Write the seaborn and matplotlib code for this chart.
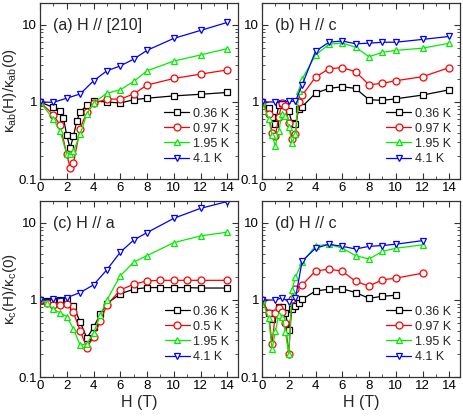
import matplotlib
matplotlib.use("Agg")
import matplotlib.pyplot as plt
import matplotlib.ticker as mticker
import seaborn as sns
import pandas as pd
import numpy as np

# ---------------- data ----------------
# (a) H // [210]
a_H_036 = [0, 1, 1.5, 1.75, 2, 2.25, 2.5, 2.75, 3, 3.5, 4, 5, 6, 7, 8, 10, 12, 14]
a_k_036 = [1.0, 0.85, 0.76, 0.62, 0.37, 0.25, 0.36, 0.57, 0.74, 0.91, 1.03, 1.0, 0.97, 1.07, 1.12, 1.2, 1.26, 1.33]
a_H_097 = [0, 1, 1.5, 2, 2.25, 2.5, 3, 3.5, 4, 5, 6, 7, 8, 10, 12, 14]
a_k_097 = [1.0, 0.68, 0.5, 0.21, 0.14, 0.16, 0.45, 0.74, 0.96, 1.09, 1.09, 1.27, 1.66, 2.02, 2.3, 2.61]
a_H_195 = [0, 1, 1.5, 2, 2.25, 2.5, 3, 3.5, 4, 5, 6, 7, 8, 10, 12, 14]
a_k_195 = [1.0, 0.6, 0.42, 0.21, 0.21, 0.23, 0.38, 0.7, 0.97, 1.3, 1.44, 1.85, 2.54, 3.4, 4.08, 4.93]
a_H_41 = [0, 1, 2, 3, 4, 5, 6, 7, 8, 10, 12, 14]
a_k_41 = [1.0, 0.99, 1.12, 1.27, 1.88, 2.54, 2.94, 3.6, 4.69, 6.7, 8.5, 10.8]

# (b) H // c  (kappa_ab)
b_H_036 = [0, 0.5, 0.75, 1, 1.25, 1.5, 1.75, 2, 2.25, 2.5, 2.75, 3, 4, 5, 6, 7, 8, 9, 10, 12, 14]
b_k_036 = [1.0, 0.83, 0.63, 0.52, 0.92, 0.96, 0.95, 0.76, 0.53, 0.52, 0.81, 0.87, 1.3, 1.5, 1.58, 1.5, 1.07, 1.05, 1.1, 1.23, 1.44]
b_H_097 = [0, 0.5, 0.75, 1, 1.25, 1.5, 1.75, 2, 2.25, 2.5, 2.75, 3, 4, 5, 6, 7, 8, 9, 10, 12, 14]
b_k_097 = [1.0, 0.7, 0.4, 0.36, 0.63, 0.98, 0.88, 0.54, 0.33, 0.38, 1.0, 1.22, 2.1, 2.7, 2.8, 2.47, 1.67, 1.75, 1.89, 2.13, 2.8]
b_H_195 = [0, 0.5, 0.75, 1, 1.25, 1.5, 1.75, 2, 2.25, 2.5, 2.75, 3, 4, 5, 6, 7, 8, 9, 10, 12, 14]
b_k_195 = [1.0, 0.61, 0.37, 0.27, 0.42, 0.7, 0.65, 0.48, 0.29, 0.38, 1.4, 1.99, 4.07, 5.6, 5.85, 5.14, 3.87, 4.42, 4.68, 5.0, 5.8]
b_H_41 = [0, 1, 2, 2.5, 3, 4, 5, 6, 7, 8, 9, 10, 12, 14]
b_k_41 = [1.0, 1.0, 1.02, 1.02, 1.67, 4.55, 5.97, 6.2, 5.7, 5.8, 5.97, 5.97, 6.5, 7.1]

# (c) H // a  (kappa_c)
c_H_036 = [0, 0.5, 1, 1.5, 2, 2.5, 3, 3.5, 4, 4.5, 5, 6, 7, 8, 9, 10, 11, 12, 14]
c_k_036 = [1.0, 0.98, 0.97, 1.0, 1.0, 0.83, 0.52, 0.32, 0.44, 0.65, 0.9, 1.2, 1.38, 1.45, 1.45, 1.45, 1.45, 1.43, 1.43]
c_H_05 = [0, 0.5, 1, 1.5, 2, 2.5, 3, 3.5, 4, 4.5, 5, 6, 7, 8, 9, 10, 11, 12, 14]
c_k_05 = [1.0, 0.92, 0.86, 0.86, 0.9, 0.69, 0.4, 0.24, 0.33, 0.53, 0.86, 1.35, 1.6, 1.77, 1.8, 1.8, 1.8, 1.8, 1.8]
c_H_195 = [0, 0.5, 1, 1.5, 2, 2.5, 3, 3.5, 4, 4.5, 5, 6, 7, 8, 10, 12, 14]
c_k_195 = [1.05, 0.91, 0.76, 0.68, 0.61, 0.42, 0.26, 0.27, 0.37, 0.63, 1.0, 2.06, 3.1, 3.77, 5.55, 6.8, 7.6]
c_H_41 = [0, 1, 2, 3, 4, 5, 6, 7, 8, 10, 12, 14]
c_k_41 = [1.0, 1.02, 1.07, 1.25, 1.57, 2.47, 4.17, 6.0, 7.5, 11.5, 15.5, 19.0]

# (d) H // c  (kappa_c)
d_H_036 = [0, 0.5, 0.75, 1, 1.25, 1.5, 1.75, 2, 2.25, 2.5, 2.75, 3, 4, 5, 6, 7, 8, 9, 10]
d_k_036 = [1.0, 0.68, 0.56, 0.68, 0.8, 0.82, 0.67, 0.41, 0.76, 0.83, 0.92, 1.02, 1.31, 1.38, 1.4, 1.25, 1.05, 1.12, 1.15]
d_H_097 = [0, 0.5, 0.75, 1, 1.25, 1.5, 1.75, 2, 2.25, 2.5, 3, 4, 5, 6, 7, 8, 9, 10, 12]
d_k_097 = [1.0, 0.67, 0.27, 0.67, 0.78, 0.7, 0.5, 0.2, 1.02, 1.38, 1.57, 2.37, 2.52, 2.37, 1.74, 1.52, 1.83, 1.92, 2.23]
d_H_195 = [0, 0.5, 0.75, 1, 1.25, 1.5, 1.75, 2, 2.25, 2.5, 3, 4, 5, 6, 7, 8, 9, 10, 12]
d_k_195 = [1.0, 0.58, 0.23, 0.39, 0.64, 0.6, 0.38, 0.2, 1.35, 2.0, 3.07, 5.05, 5.3, 4.7, 3.77, 3.4, 4.28, 4.7, 5.2]
d_H_41 = [0, 1, 1.5, 2, 2.5, 3, 4, 5, 6, 7, 8, 9, 10, 12]
d_k_41 = [1.0, 1.0, 1.07, 0.95, 1.05, 3.2, 4.7, 5.3, 4.97, 4.6, 4.97, 5.1, 5.3, 5.9]

panel_titles = ["(a) H // [210]", "(b) H // c", "(c) H // a", "(d) H // c"]
labels_ab = ["0.36 K", "0.97 K", "1.95 K", "4.1 K"]
labels_c = ["0.36 K", "0.5 K", "1.95 K", "4.1 K"]
xticks = [0, 2, 4, 6, 8, 10, 12, 14]
yticks = [0.1, 1, 10]
ytick_labels = ["0.1", "1", "10"]

panels = [
    [(a_H_036, a_k_036), (a_H_097, a_k_097), (a_H_195, a_k_195), (a_H_41, a_k_41)],
    [(b_H_036, b_k_036), (b_H_097, b_k_097), (b_H_195, b_k_195), (b_H_41, b_k_41)],
    [(c_H_036, c_k_036), (c_H_05, c_k_05), (c_H_195, c_k_195), (c_H_41, c_k_41)],
    [(d_H_036, d_k_036), (d_H_097, d_k_097), (d_H_195, d_k_195), (d_H_41, d_k_41)],
]
panel_labels = [labels_ab, labels_ab, labels_c, labels_ab]

colors = ["#000000", "#ff0000", "#00ee00", "#0000ff"]
markers = ["s", "o", "^", "v"]

# ---------------- figure ----------------
sns.set_theme(style="ticks")
plt.rcParams["font.family"] = ["Liberation Sans", "DejaVu Sans"]
plt.rcParams["mathtext.fontset"] = "custom"
plt.rcParams["mathtext.rm"] = "Liberation Sans"
plt.rcParams["mathtext.it"] = "Liberation Sans"

fig = plt.figure(figsize=(4.63, 4.16), dpi=100)
W, Hf = 463.0, 416.0
lefts = [40, 262]
tops = [3, 201]
aw, ah = 198, 176
axes = []
for r in range(2):
    for c in range(2):
        ax = fig.add_axes([lefts[c] / W, 1 - (tops[r] + ah) / Hf, aw / W, ah / Hf])
        axes.append(ax)

for i, ax in enumerate(axes):
    for j, (hh, kk) in enumerate(panels[i]):
        df = pd.DataFrame({"H": hh, "k": kk})
        sns.lineplot(data=df, x="H", y="k", ax=ax, color=colors[j], marker=markers[j],
                     markersize=5, markerfacecolor="white", markeredgecolor=colors[j],
                     markeredgewidth=0.9, linewidth=0.9, sort=False, estimator=None,
                     label=panel_labels[i][j])
    ax.set_yscale("log")
    ax.set_xlim(0, 14.8)
    ax.set_ylim(0.1, 19.3)
    ax.set_xticks(xticks)
    ax.set_xticklabels([str(t) for t in xticks])
    ax.xaxis.set_minor_locator(mticker.MultipleLocator(1))
    ax.set_yticks(yticks)
    ax.set_yticklabels(ytick_labels)
    ax.yaxis.set_minor_locator(mticker.LogLocator(base=10, subs=np.arange(2, 10)))
    ax.yaxis.set_minor_formatter(mticker.NullFormatter())
    ax.tick_params(which="both", direction="in", top=True, right=True, labelsize=9.5,
                   colors="#333333", labelcolor="black", pad=2)
    ax.tick_params(which="major", length=4, width=0.8)
    ax.tick_params(which="minor", length=2, width=0.6)
    for sp in ax.spines.values():
        sp.set_color("#333333")
        sp.set_linewidth(0.9)
    ax.set_xlabel("")
    ax.set_ylabel("")
    ax.text(0.065, 0.915, panel_titles[i], transform=ax.transAxes, fontsize=11.5,
            va="top", ha="left")
    ax.legend(loc="lower right", bbox_to_anchor=(1.0, 0.03), frameon=False,
              fontsize=9, handlelength=2.0, handletextpad=0.3, labelspacing=0.25,
              borderaxespad=0.3)

axes[0].set_ylabel(r"$\kappa_{ab}$(H)/$\kappa_{ab}$(0)", fontsize=11)
axes[2].set_ylabel(r"$\kappa_{c}$(H)/$\kappa_{c}$(0)", fontsize=11)
for ax in (axes[0], axes[2]):
    ax.yaxis.set_label_coords(-0.105, 0.5)
axes[2].set_xlabel("H (T)", fontsize=11.5, labelpad=2)
axes[3].set_xlabel("H (T)", fontsize=11.5, labelpad=2)

fig.savefig("out.png", dpi=100)
